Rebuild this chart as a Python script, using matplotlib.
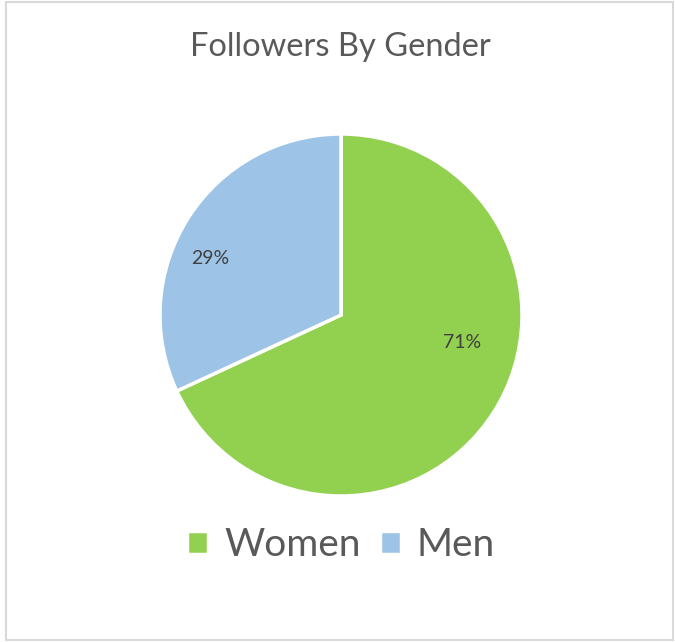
import matplotlib
matplotlib.use("Agg")
import matplotlib.pyplot as plt
from matplotlib.patches import Rectangle

categories = ["Women", "Men"]
shares = [68.1, 31.9]
pct_labels = ["71%", "29%"]
colors = ["#92D050", "#9DC3E6"]
title = "Followers By Gender"

plt.rcParams['font.family'] = ['Lato', 'DejaVu Sans']
W, H = 675, 642
fig = plt.figure(figsize=(W/100, H/100), dpi=100)
fig.patch.set_facecolor("white")

# border
fig.patches.append(Rectangle((6/W, 2/H), (673-6)/W, (640-2)/H, transform=fig.transFigure,
                             fill=False, edgecolor="#D9D9D9", linewidth=1.5))

cx, cy, r = 341, 315, 181
ax = fig.add_axes([(cx-r)/W, (H-cy-r)/H, 2*r/W, 2*r/H])
wedges, _ = ax.pie(shares, colors=colors, startangle=90, counterclock=False,
                   wedgeprops=dict(edgecolor="white", linewidth=2.5))
ax.set_xlim(-1, 1)
ax.set_ylim(-1, 1)
ax.set_aspect("equal")
ax.axis("off")

label_pos = [(0.67, -0.15), (-0.72, 0.31)]
for (x, y), t in zip(label_pos, pct_labels):
    ax.text(x, y, t, ha="center", va="center", fontsize=14, color="#404040")

fig.text(340/W, 1-47/H, title, ha="center", va="center", fontsize=23.5, color="#595959")

leg = fig.legend(wedges, categories, loc="center", bbox_to_anchor=(341/W, 1-545/H),
                 ncol=2, frameon=False, fontsize=28, handlelength=0.55, handleheight=0.55,
                 handletextpad=0.4, columnspacing=0.5, labelcolor="#595959")
fig.savefig("out.png", dpi=100)
